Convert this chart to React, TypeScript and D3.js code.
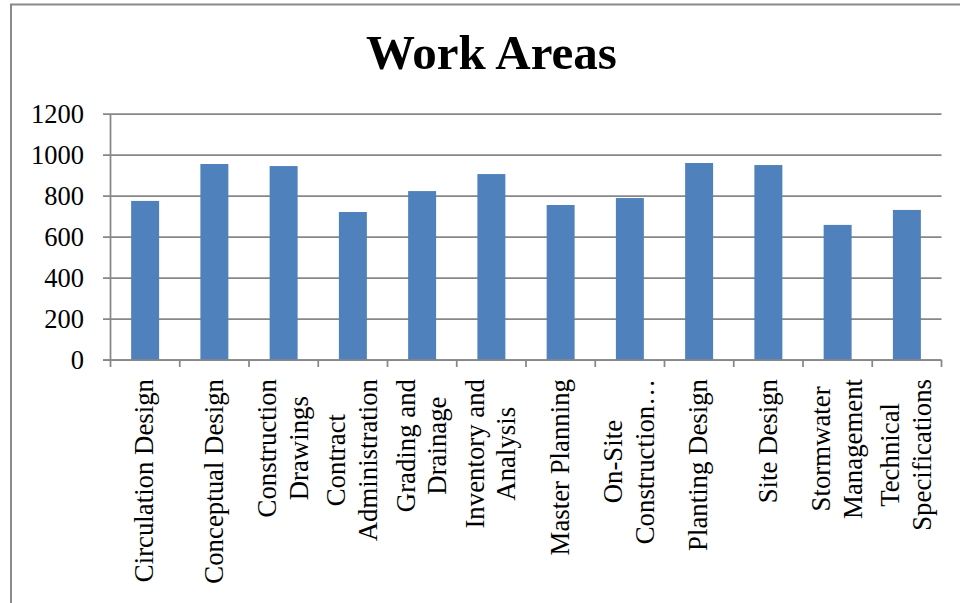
import React, { useEffect, useRef } from "react";
import * as d3 from "d3";

const title = "Work Areas";
const categories: string[][] = [
  ["Circulation Design"],
  ["Conceptual Design"],
  ["Construction", "Drawings"],
  ["Contract", "Administration"],
  ["Grading and", "Drainage"],
  ["Inventory and", "Analysis"],
  ["Master Planning"],
  ["On-Site", "Construction…"],
  ["Planting Design"],
  ["Site Design"],
  ["Stormwater", "Management"],
  ["Technical", "Specifications"],
];
const values: number[] = [776, 956, 946, 722, 824, 907, 756, 790, 961, 951, 659, 732];
const yTicks: number[] = [0, 200, 400, 600, 800, 1000, 1200];

const W = 960;
const H = 603;
const FONT = "'Liberation Serif', 'Times New Roman', serif";
const GRID = "#878787";
const BAR = "#4F81BD";

export default function App() {
  const ref = useRef<SVGSVGElement | null>(null);

  useEffect(() => {
    const svg = d3.select(ref.current);
    svg.selectAll("*").remove();

    const left = 110.5;
    const right = 941.5;
    const top = 114;
    const bottom = 360;

    const keys = categories.map((c) => c.join(" "));
    const x = d3
      .scaleBand<string>()
      .domain(keys)
      .range([left, right])
      .paddingInner(0.596)
      .paddingOuter(0.298);
    const y = d3.scaleLinear().domain([0, 1200]).range([bottom, top]);

    // outer frame
    svg
      .append("path")
      .attr("d", `M11,${H + 5} L11,4.5 L${W + 5},4.5`)
      .attr("fill", "none")
      .attr("stroke", "#8a8a8a")
      .attr("stroke-width", 2);

    // title
    svg
      .append("text")
      .attr("x", 491.5)
      .attr("y", 69)
      .attr("text-anchor", "middle")
      .attr("font-family", FONT)
      .attr("font-weight", "bold")
      .attr("font-size", 49)
      .attr("fill", "#000")
      .text(title);

    // gridlines + y ticks
    const g = svg.append("g");
    yTicks.forEach((t) => {
      g.append("line")
        .attr("x1", 103)
        .attr("x2", right)
        .attr("y1", y(t))
        .attr("y2", y(t))
        .attr("stroke", GRID)
        .attr("stroke-width", 1.75);
      g.append("text")
        .attr("x", 84)
        .attr("y", y(t))
        .attr("dy", "0.33em")
        .attr("text-anchor", "end")
        .attr("font-family", FONT)
        .attr("font-size", 26.5)
        .attr("fill", "#000")
        .text(String(t));
    });

    // bars
    svg
      .append("g")
      .selectAll("rect")
      .data(values)
      .join("rect")
      .attr("x", (_, i) => x(keys[i]) as number)
      .attr("width", x.bandwidth())
      .attr("y", (d) => y(d))
      .attr("height", (d) => y(0) - y(d))
      .attr("fill", BAR);

    // axes lines
    svg
      .append("line")
      .attr("x1", left)
      .attr("x2", left)
      .attr("y1", top)
      .attr("y2", bottom)
      .attr("stroke", GRID)
      .attr("stroke-width", 1.75);
    const step = x.step();
    const boundaries = d3.range(keys.length + 1).map((i) => left + i * step);
    boundaries.forEach((bx) => {
      svg
        .append("line")
        .attr("x1", bx)
        .attr("x2", bx)
        .attr("y1", bottom)
        .attr("y2", bottom + 7)
        .attr("stroke", GRID)
        .attr("stroke-width", 1.75);
    });
    svg
      .append("line")
      .attr("x1", 103)
      .attr("x2", right)
      .attr("y1", bottom)
      .attr("y2", bottom)
      .attr("stroke", GRID)
      .attr("stroke-width", 1.75);

    // category labels (rotated)
    const labelTop = 379;
    const lh = 31.5;
    categories.forEach((lines, i) => {
      const cx = (x(keys[i]) as number) + x.bandwidth() / 2;
      const grp = svg.append("g");
      const texts = lines.map((ln) =>
        grp
          .append("text")
          .attr("font-family", FONT)
          .attr("font-size", 26.8)
          .attr("fill", "#000")
          .attr("text-anchor", "middle")
          .text(ln)
      );
      const widths = texts.map((t) => (t.node() as SVGTextElement).getComputedTextLength());
      const maxW = Math.max(...widths);
      const n = lines.length;
      grp.attr("transform", `translate(${cx},${labelTop + maxW / 2}) rotate(-90)`);
      texts.forEach((t, j) => {
        t.attr("x", 0).attr("y", (j - (n - 1) / 2) * lh + 8.3);
      });
    });
  }, []);

  return (
    <svg
      ref={ref}
      width={W}
      height={H}
      style={{ position: "absolute", left: 0, top: 0, background: "#fff" }}
    />
  );
}
